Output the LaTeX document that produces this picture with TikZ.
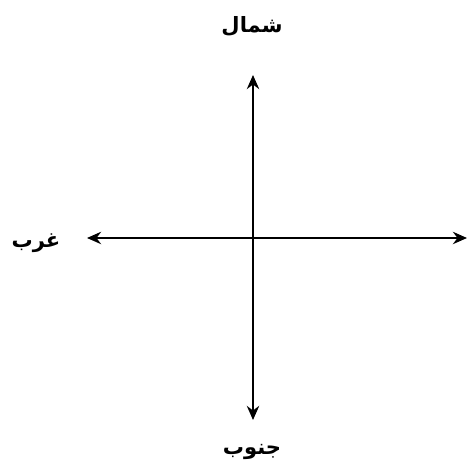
\documentclass[tikz,border=0pt]{standalone}
\usepackage{fontspec}
\usepackage{tikz}
\usetikzlibrary{arrows.meta,positioning}
\TeXXeTstate=1
\newfontfamily\arabicfont[Script=Arabic]{DejaVu Sans}

\begin{document}
\begin{tikzpicture}[x=0.02cm, y=0.02cm,
  every node/.style={font=\arabicfont\large\bfseries},
  yon/.style={-{Stealth[length=8pt,width=7pt]}, line width=1.5pt, black}]
\useasboundingbox (0,0) rectangle (468,472);
\coordinate (merkez) at (253,234);
\coordinate (ucN) at (253,397);
\coordinate (ucS) at (253,52);
\coordinate (ucW) at (87,234);
\coordinate (ucE) at (467,234);
\node (lblN) at (252,446) {\beginR شمال\endR};
\node (lblW) at (36,229) {\beginR غرب\endR};
\node (lblS) at (252,20) {\beginR جنوب\endR};
\foreach \u in {ucN, ucS, ucW, ucE} \draw[yon] (merkez)--(\u);
\end{tikzpicture}
\end{document}
